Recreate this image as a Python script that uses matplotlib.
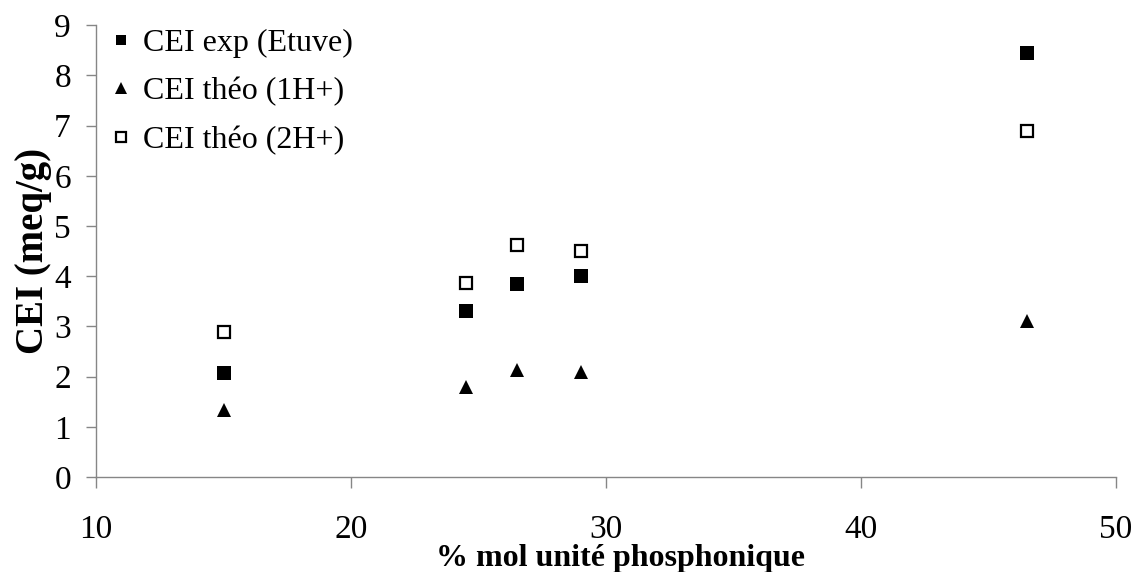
import matplotlib
matplotlib.use("Agg")
import matplotlib.pyplot as plt

plt.rcParams.update({
    "font.family": ["Liberation Serif", "DejaVu Serif"],
    "axes.edgecolor": "#868686",
    "xtick.color": "#868686",
    "ytick.color": "#868686",
    "xtick.labelcolor": "black",
    "ytick.labelcolor": "black",
})

# % mol of phosphonic unit
pct_mol = [15, 24.5, 26.5, 29, 46.5]

# ion exchange capacity (meq/g)
cei_exp = [2.07, 3.31, 3.84, 4.00, 8.45]
cei_theo_1h = [1.33, 1.79, 2.14, 2.10, 3.11]
cei_theo_2h = [2.89, 3.86, 4.62, 4.50, 6.89]

x_ticks = [10, 20, 30, 40, 50]
y_ticks = list(range(0, 10))

fig = plt.figure(figsize=(11.36, 5.72), dpi=100)
ax = fig.add_axes([0.0845, 0.166, 0.898, 0.790])

ax.plot(pct_mol, cei_exp, "s", ms=9.5, color="black", mew=0, label="CEI exp (Etuve)")
ax.plot(pct_mol, cei_theo_1h, "^", ms=10.5, color="black", mew=0, label="CEI théo (1H+)")
ax.plot(pct_mol, cei_theo_2h, "s", ms=8.5, mfc="white", mec="black", mew=1.6,
        label="CEI théo (2H+)")

ax.set_xlim(10, 50)
ax.set_ylim(0, 9)
ax.set_xticks(x_ticks)
ax.set_yticks(y_ticks)
ax.tick_params(axis="x", direction="out", length=8, width=1, pad=19, labelsize=24)
ax.tick_params(axis="y", direction="out", length=7, width=1, pad=11, labelsize=24)

for side in ("top", "right"):
    ax.spines[side].set_visible(False)
for side in ("left", "bottom"):
    ax.spines[side].set_linewidth(1)

ax.set_xlabel("% mol unité phosphonique", fontsize=23, fontweight="bold", va="top")
ax.xaxis.set_label_coords(0.514, -0.149)
ax.set_ylabel("CEI (meq/g)", fontsize=28, fontweight="bold")
ax.yaxis.set_label_coords(-0.043, 0.5)

ax.legend(loc="upper left", bbox_to_anchor=(-0.002, 1.035), frameon=False, fontsize=23,
          markerscale=0.8, handlelength=0.5, handletextpad=0.45, labelspacing=0.6,
          borderaxespad=0.2)

fig.savefig("out.png", dpi=100)
